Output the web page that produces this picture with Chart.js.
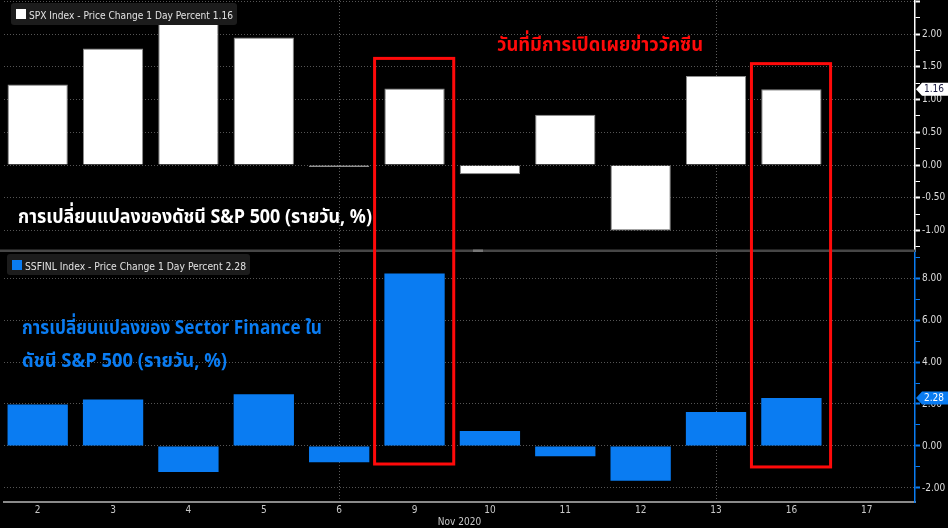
<!DOCTYPE html>
<html>
<head>
<meta charset="utf-8">
<script src="https://cdn.jsdelivr.net/npm/chart.js@4.4.1/dist/chart.umd.min.js"></script>
<style>
  html, body { margin: 0; padding: 0; background: #000; }
  #wrap { width: 948px; height: 528px; }
</style>
</head>
<body>
<div id="wrap"><canvas id="chart" width="948" height="528"></canvas></div>
<script>
// Trading days, Nov 2020
const dayLabels = ['2', '3', '4', '5', '6', '9', '10', '11', '12', '13', '16', '17'];
const weekEndLabels = ['6', '13'];

// SPX Index - 1 day % change
const spxChange = [1.23, 1.78, 2.20, 1.95, -0.03, 1.17, -0.14, 0.77, -1.00, 1.36, 1.16, null];
// S5FINL Index - 1 day % change
const finlChange = [1.98, 2.22, -1.24, 2.46, -0.78, 8.22, 0.71, -0.49, -1.66, 1.62, 2.28, null];

// axis ticks (labels only on the major ones)
const spxTicks = [-1.25, -1, -0.75, -0.5, -0.25, 0, 0.25, 0.5, 0.75, 1, 1.25, 1.5, 1.75, 2, 2.25, 2.5];
const finlTicks = [-2, -1, 0, 1, 2, 3, 4, 5, 6, 7, 8, 9];

const spxLast = 1.16;
const finlLast = 2.28;

const WHITE = '#ffffff';
const BLUE = '#0a7cf2';
const RED = '#ff0a0a';
const FONT = '"DejaVu Sans Condensed", "Liberation Sans Narrow", "DejaVu Sans", sans-serif';
const THAI = '"Noto Sans Thai", "Noto Sans Thai UI", "Noto Sans", "DejaVu Sans", sans-serif';

// major ticks get a label and a dotted grid line; the top one is clipped in the original
const isSpxMajor = v => Math.abs(v * 2 - Math.round(v * 2)) < 1e-6;
const isFinlMajor = v => Math.round(v) % 2 === 0;
const spxLabel = v => (isSpxMajor(v) && v < 2.4) ? v.toFixed(2) : '';
const finlLabel = v => (isFinlMajor(v) && v < 8.5) ? v.toFixed(2) : '';

// no extra room for edge labels, the panels go right to the canvas edge
function noPadding(s) {
    s.paddingTop = 0;
    s.paddingBottom = 0;
    s.paddingLeft = 0;
    s.paddingRight = 0;
}

// draws the annotations, legends and last-value tags
const overlayPlugin = {
    id: 'overlay',
    afterDraw(chart) {
        const ctx = chart.ctx;
        const x = chart.scales.x;
        const yTop = chart.scales.ySpx;
        const yBot = chart.scales.yFinl;
        const area = chart.chartArea;

        ctx.save();

        // panel separator
        ctx.fillStyle = '#464646';
        ctx.fillRect(0, yTop.bottom - 1.5, area.right, 2.5);
        ctx.fillStyle = '#777';
        ctx.fillRect(473, yTop.bottom - 1.5, 10, 2.5);

        // legend boxes
        function legendBox(bx, by, bw, bh, color, text) {
            ctx.fillStyle = '#1c1c1c';
            ctx.beginPath();
            ctx.roundRect(bx, by, bw, bh, 3);
            ctx.fill();
            ctx.fillStyle = color;
            ctx.fillRect(bx + 5, by + 6, 10, 10);
            ctx.fillStyle = '#e2e2e2';
            ctx.font = '11px ' + FONT;
            ctx.textBaseline = 'alphabetic';
            ctx.textAlign = 'left';
            ctx.fillText(text, bx + 18, by + 15.5, bw - 22);
        }
        legendBox(11, 3, 226, 22, WHITE, 'SPX Index - Price Change 1 Day Percent ' + spxLast.toFixed(2));
        legendBox(7, 254, 243, 21, BLUE, 'SSFINL Index - Price Change 1 Day Percent ' + finlLast.toFixed(2));

        // red boxes around vaccine news days (spanning both panels)
        ctx.strokeStyle = RED;
        ctx.lineWidth = 3;
        [['9', 1.63, -0.86], ['16', 1.55, -1.0]].forEach(([day, top, bottom]) => {
            const i = dayLabels.indexOf(day);
            const l = x.getPixelForValue(i - 0.53);
            const r = x.getPixelForValue(i + 0.52);
            const t = yTop.getPixelForValue(top);
            const b = yBot.getPixelForValue(bottom);
            ctx.strokeRect(l, t, r - l, b - t);
        });

        // thai captions
        ctx.textAlign = 'left';
        ctx.textBaseline = 'alphabetic';
        ctx.font = 'bold 20px ' + THAI;
        ctx.fillStyle = RED;
        ctx.fillText('วันที่มีการเปิดเผยข่าววัคซีน', 497, 51, 206);
        ctx.fillStyle = WHITE;
        ctx.fillText('การเปลี่ยนแปลงของดัชนี S&P 500 (รายวัน, %)', 18, 223, 354);
        ctx.fillStyle = BLUE;
        ctx.fillText('การเปลี่ยนแปลงของ Sector Finance ใน', 22, 334, 300);
        ctx.fillText('ดัชนี S&P 500 (รายวัน, %)', 22, 367, 205);

        // last value tags on the right axis
        function tag(scale, value, fill, textColor) {
            const ty = scale.getPixelForValue(value);
            const tx = scale.left + 1;
            ctx.fillStyle = fill;
            ctx.beginPath();
            ctx.moveTo(tx, ty);
            ctx.lineTo(tx + 6, ty - 6.5);
            ctx.lineTo(chart.width, ty - 6.5);
            ctx.lineTo(chart.width, ty + 6.5);
            ctx.lineTo(tx + 6, ty + 6.5);
            ctx.closePath();
            ctx.fill();
            ctx.fillStyle = textColor;
            ctx.font = '10px ' + FONT;
            ctx.textBaseline = 'middle';
            ctx.fillText(value.toFixed(2), tx + 8, ty + 0.5);
        }
        tag(yTop, spxLast, WHITE, '#1a1a40');
        tag(yBot, finlLast, BLUE, WHITE);

        ctx.restore();
    }
};

new Chart(document.getElementById('chart'), {
    type: 'bar',
    data: {
        datasets: [{
            label: 'SPX Index',
            data: spxChange.map((v, i) => ({ x: i, y: v })),
            yAxisID: 'ySpx',
            backgroundColor: WHITE,
            borderColor: '#8c8c8c',
            borderWidth: 1,
            grouped: false,
            barPercentage: 0.8,
            categoryPercentage: 1
        }, {
            label: 'S5FINL Index',
            data: finlChange.map((v, i) => ({ x: i, y: v })),
            yAxisID: 'yFinl',
            backgroundColor: BLUE,
            borderWidth: 0,
            grouped: false,
            barPercentage: 0.8,
            categoryPercentage: 1
        }]
    },
    options: {
        responsive: false,
        animation: false,
        devicePixelRatio: 1,
        layout: { padding: { left: 4, top: 0, right: 0, bottom: 0 } },
        plugins: {
            legend: { display: false },
            tooltip: { enabled: false }
        },
        scales: {
            x: {
                type: 'linear',
                offset: false,
                min: -0.447,
                max: 11.64,
                afterBuildTicks: s => { s.ticks = dayLabels.map((_, i) => ({ value: i })); },
                afterFit: s => { s.height = 26; noPadding(s); },
                ticks: {
                    callback: v => dayLabels[v],
                    color: '#c8c8c8',
                    font: { family: FONT, size: 10 },
                    padding: 2,
                    maxRotation: 0,
                    autoSkip: false
                },
                grid: {
                    offset: false,
                    color: c => (c.tick && weekEndLabels.includes(dayLabels[c.tick.value])) ? '#5c5c5c' : 'rgba(0,0,0,0)',
                    drawTicks: false
                },
                border: { color: '#8a8a8a', width: 2, dash: [1, 2] },
                title: {
                    display: true,
                    text: 'Nov 2020',
                    color: '#c8c8c8',
                    font: { family: FONT, size: 10 },
                    padding: { top: 0, bottom: 0 }
                }
            },
            ySpx: {
                type: 'linear',
                position: 'right',
                stack: 'panels',
                stackWeight: 1,
                min: -1.315,
                max: 2.523,
                afterBuildTicks: s => { s.ticks = spxTicks.map(v => ({ value: v })); },
                afterFit: s => { s.width = 33; noPadding(s); },
                ticks: {
                    callback: spxLabel,
                    color: '#dcdcdc',
                    font: { family: FONT, size: 10 },
                    padding: 2,
                    autoSkip: false
                },
                grid: {
                    color: c => (c.tick && isSpxMajor(c.tick.value)) ? '#555' : 'rgba(0,0,0,0)',
                    tickColor: WHITE,
                    tickLength: 5,
                    tickWidth: c => (c.tick && isSpxMajor(c.tick.value)) ? 2 : 1
                },
                border: { color: WHITE, width: 1.5, dash: [1, 2] }
            },
            yFinl: {
                type: 'linear',
                position: 'right',
                stack: 'panels',
                stackWeight: 1,
                min: -2.67,
                max: 9.29,
                afterBuildTicks: s => { s.ticks = finlTicks.map(v => ({ value: v })); },
                afterFit: s => { s.width = 33; noPadding(s); },
                ticks: {
                    callback: finlLabel,
                    color: '#dcdcdc',
                    font: { family: FONT, size: 10 },
                    padding: 2,
                    autoSkip: false
                },
                grid: {
                    color: c => (c.tick && isFinlMajor(c.tick.value)) ? '#555' : 'rgba(0,0,0,0)',
                    tickColor: BLUE,
                    tickLength: 5,
                    tickWidth: c => (c.tick && isFinlMajor(c.tick.value)) ? 2 : 1
                },
                border: { color: BLUE, width: 1.5, dash: [1, 2] }
            }
        }
    },
    plugins: [overlayPlugin]
});
</script>
</body>
</html>
